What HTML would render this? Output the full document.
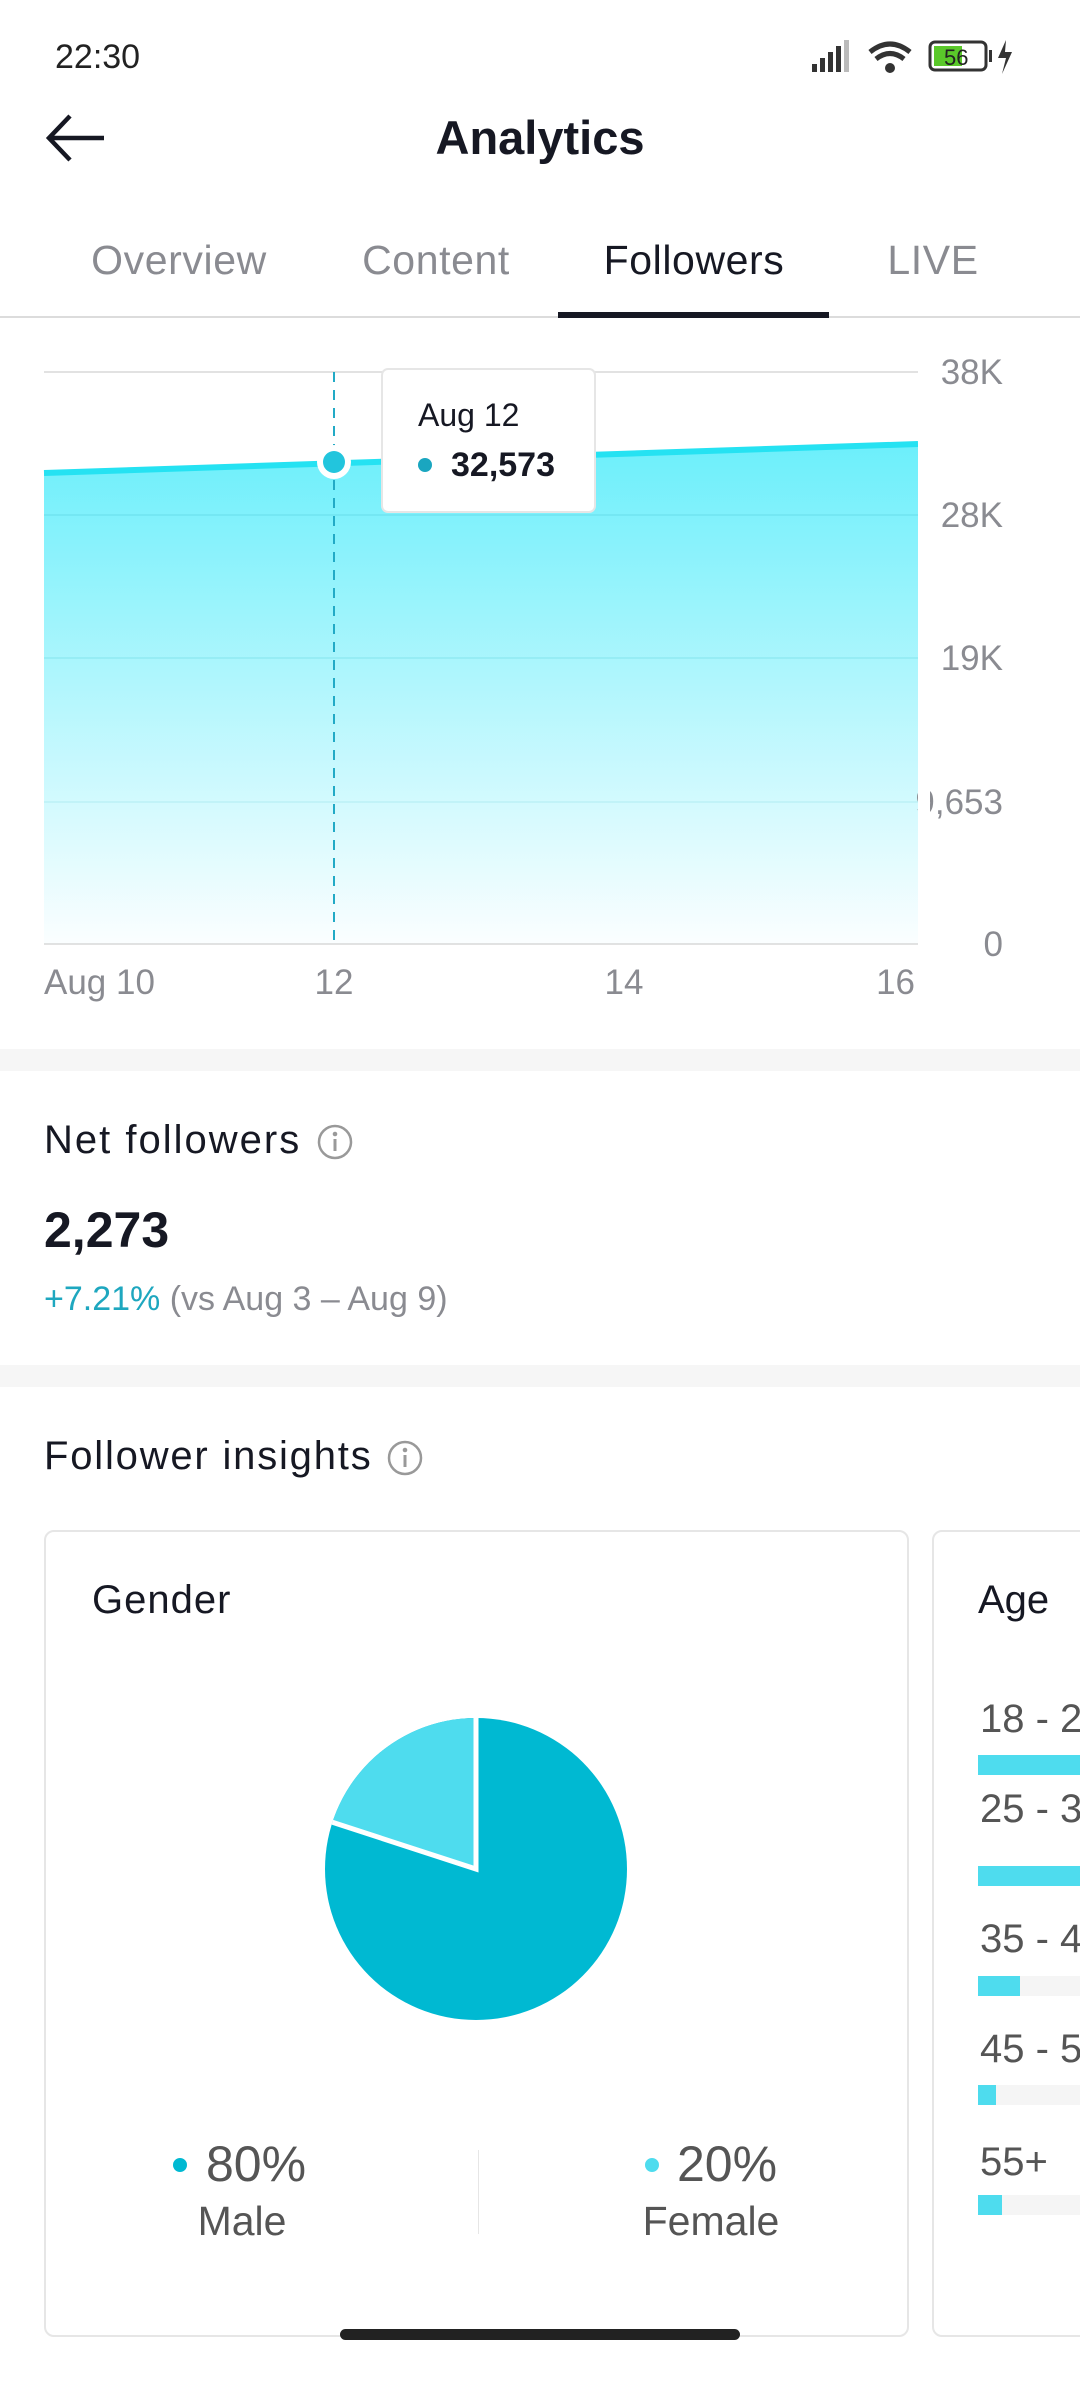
<!DOCTYPE html>
<html><head><meta charset="utf-8"><style>
*{margin:0;padding:0;box-sizing:border-box}
body{width:1080px;height:2400px;overflow:hidden;background:#fff;font-family:"Liberation Sans",Arial,sans-serif;position:relative;color:#161823}
.a{position:absolute;white-space:nowrap}
.band{position:absolute;left:0;width:1080px;background:#f6f6f6}
</style></head><body>
<div class="a" style="left:55px;top:38px;font-size:34px;color:#222">22:30</div>
<svg class="a" style="left:800px;top:36px" width="240" height="44">
 <rect x="12" y="28" width="5" height="8" fill="#333"/><rect x="20" y="22" width="5" height="14" fill="#333"/><rect x="28" y="16" width="5" height="20" fill="#333"/><rect x="36" y="10" width="5" height="26" fill="#333"/><rect x="44" y="4" width="5" height="32" fill="#bbb"/>
 <path d="M70 16 Q90 0 110 16" stroke="#333" stroke-width="5" fill="none"/><path d="M76 23 Q90 12 104 23" stroke="#333" stroke-width="5" fill="none"/><circle cx="90" cy="32" r="5" fill="#333"/>
 <rect x="130" y="6" width="56" height="28" rx="5" fill="none" stroke="#333" stroke-width="3"/><rect x="134" y="10" width="28" height="20" fill="#5ac82a"/><text x="144" y="29" font-size="22" fill="#222">56</text><rect x="189" y="14" width="3" height="12" fill="#333"/>
 <path d="M206 4 L198 22 L206 22 L202 38 L212 16 L205 16 Z" fill="#333"/>
</svg>
<svg class="a" style="left:44px;top:112px" width="64" height="52"><path d="M60 26 H6 M26 4 L5 26 L26 48" stroke="#161823" stroke-width="4.5" fill="none"/></svg>
<div class="a" style="left:0;width:1080px;text-align:center;top:110px;font-size:47px;font-weight:bold">Analytics</div>
<div class="a" style="left:179px;top:237px;font-size:41px;letter-spacing:0.6px;color:#8a8b91;transform:translateX(-50%)">Overview</div>
<div class="a" style="left:436px;top:237px;font-size:41px;letter-spacing:0.6px;color:#8a8b91;transform:translateX(-50%)">Content</div>
<div class="a" style="left:694px;top:237px;font-size:41px;letter-spacing:0.6px;color:#161823;transform:translateX(-50%)">Followers</div>
<div class="a" style="left:933px;top:237px;font-size:41px;letter-spacing:0.6px;color:#8a8b91;transform:translateX(-50%)">LIVE</div>
<div class="a" style="left:0;top:316px;width:1080px;height:2px;background:#dcdcdc"></div>
<div class="a" style="left:558px;top:312px;width:271px;height:6px;background:#161823"></div>

<svg class="a" style="left:0;top:318px" width="1080" height="700">
 <defs><linearGradient id="g" x1="0" y1="0" x2="0" y2="1"><stop offset="0" stop-color="#6ceffb"/><stop offset="1" stop-color="#fbfeff"/></linearGradient></defs>
 <path d="M44 155 L918 126 L918 626 L44 626 Z" fill="url(#g)"/>
 <g stroke-width="1.5"><line x1="44" y1="54" x2="918" y2="54" stroke="#d8d8d8"/><line x1="44" y1="197" x2="918" y2="197" stroke="#5fd8e6" stroke-opacity="0.5"/><line x1="44" y1="340" x2="918" y2="340" stroke="#7adfe9" stroke-opacity="0.5"/><line x1="44" y1="484" x2="918" y2="484" stroke="#a6e9f0" stroke-opacity="0.5"/><line x1="44" y1="626" x2="918" y2="626" stroke="#d8d8d8"/></g>
 <path d="M44 155 L918 126" stroke="#25e2f2" stroke-width="6" fill="none"/>
 <line x1="334" y1="54" x2="334" y2="626" stroke="#22aac6" stroke-width="2" stroke-dasharray="10,8"/>
 <circle cx="334" cy="144" r="17" fill="#fff"/><circle cx="334" cy="144" r="11" fill="#22c5dd"/>
 <g font-size="35" fill="#8a8b91" text-anchor="end"><text x="1003" y="66">38K</text><text x="1003" y="209">28K</text><text x="1003" y="352">19K</text><text x="1003" y="496">9,653</text><text x="1003" y="638">0</text></g>
 <g font-size="35" fill="#8a8b91"><text x="44" y="676">Aug 10</text><text x="334" y="676" text-anchor="middle">12</text><text x="624" y="676" text-anchor="middle">14</text><text x="915" y="676" text-anchor="end">16</text></g>
 <rect x="382" y="51" width="213" height="143" rx="6" fill="#fff" stroke="#e6e6e6" stroke-width="2"/>
 <text x="418" y="108" font-size="32" fill="#161823">Aug 12</text>
 <circle cx="425" cy="147" r="7" fill="#1aa6c0"/>
 <text x="451" y="158" font-size="34" font-weight="bold" fill="#161823">32,573</text>
</svg>
<div class="a" style="left:918px;top:340px;width:12px;height:680px;background:#fff"></div>
<div class="band" style="top:1049px;height:22px"></div>
<div class="a" style="left:44px;top:1118px;font-size:40px;letter-spacing:2px">Net followers</div>
<svg class="a" style="left:316px;top:1123px" width="38" height="38"><circle cx="19" cy="19" r="16" fill="none" stroke="#999" stroke-width="2.5"/><circle cx="19" cy="11" r="2.3" fill="#999"/><rect x="17.5" y="16" width="3" height="12" fill="#999"/></svg>
<div class="a" style="left:44px;top:1201px;font-size:50px;font-weight:bold">2,273</div>
<div class="a" style="left:44px;top:1280px;font-size:34px;color:#8a8b91"><span style="color:#1ea7bf">+7.21%</span> (vs Aug 3 – Aug 9)</div>
<div class="band" style="top:1365px;height:22px"></div>
<div class="a" style="left:44px;top:1434px;font-size:40px;letter-spacing:1.8px">Follower insights</div>
<svg class="a" style="left:386px;top:1439px" width="38" height="38"><circle cx="19" cy="19" r="16" fill="none" stroke="#999" stroke-width="2.5"/><circle cx="19" cy="11" r="2.3" fill="#999"/><rect x="17.5" y="16" width="3" height="12" fill="#999"/></svg>

<div class="a" style="left:44px;top:1530px;width:865px;height:807px;border:2px solid #e6e6e6;border-radius:10px"></div>
<div class="a" style="left:932px;top:1530px;width:300px;height:807px;border:2px solid #e6e6e6;border-radius:10px"></div>
<div class="a" style="left:92px;top:1578px;font-size:40px;letter-spacing:1px">Gender</div>
<svg class="a" style="left:300px;top:1700px" width="360" height="340">
 <circle cx="176" cy="169" r="151" fill="#00b9d2"/>
 <path d="M176 169 L176 18 A151 151 0 0 0 32.4 122.3 Z" fill="#4edcee"/>
 <path d="M176 18 L176 169 L32.4 122.3" stroke="#fff" stroke-width="5" fill="none"/>
</svg>
<div class="a" style="left:173px;top:2158px;width:14px;height:14px;border-radius:50%;background:#00b9d2"></div>
<div class="a" style="left:206px;top:2135px;font-size:50px;color:#555">80%</div>
<div class="a" style="left:242px;top:2198px;font-size:41px;color:#555;transform:translateX(-50%)">Male</div>
<div class="a" style="left:478px;top:2150px;width:1px;height:84px;background:#e6e6e6"></div>
<div class="a" style="left:645px;top:2158px;width:14px;height:14px;border-radius:50%;background:#4edcee"></div>
<div class="a" style="left:677px;top:2135px;font-size:50px;color:#555">20%</div>
<div class="a" style="left:711px;top:2198px;font-size:41px;color:#555;transform:translateX(-50%)">Female</div>

<div class="a" style="left:978px;top:1578px;font-size:40px">Age</div>
<div class="a" style="left:980px;top:1697px;font-size:40px;color:#555">18 - 24</div>
<div class="a" style="left:978px;top:1755px;width:200px;height:20px;background:#4edcee"></div>
<div class="a" style="left:980px;top:1787px;font-size:40px;color:#555">25 - 34</div>
<div class="a" style="left:978px;top:1866px;width:200px;height:20px;background:#4edcee"></div>
<div class="a" style="left:980px;top:1917px;font-size:40px;color:#555">35 - 44</div>
<div class="a" style="left:978px;top:1976px;width:200px;height:20px;background:#f5f5f5"></div>
<div class="a" style="left:978px;top:1976px;width:42px;height:20px;background:#4edcee"></div>
<div class="a" style="left:980px;top:2027px;font-size:40px;color:#555">45 - 54</div>
<div class="a" style="left:978px;top:2085px;width:200px;height:20px;background:#f5f5f5"></div>
<div class="a" style="left:978px;top:2085px;width:18px;height:20px;background:#4edcee"></div>
<div class="a" style="left:980px;top:2140px;font-size:40px;color:#555">55+</div>
<div class="a" style="left:978px;top:2195px;width:200px;height:20px;background:#f5f5f5"></div>
<div class="a" style="left:978px;top:2195px;width:24px;height:20px;background:#4edcee"></div>

<div class="a" style="left:340px;top:2329px;width:400px;height:11px;border-radius:6px;background:#222"></div>
</body></html>
